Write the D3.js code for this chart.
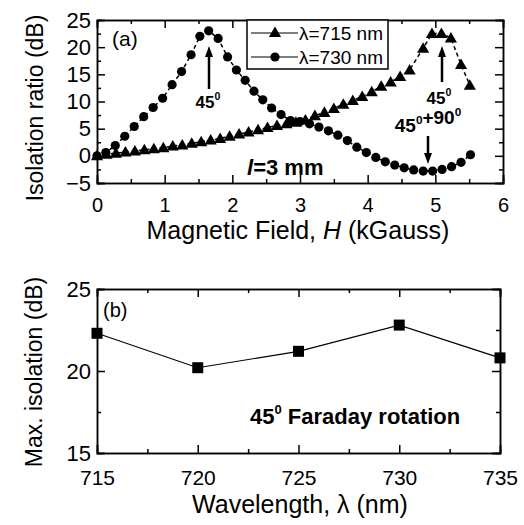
<!DOCTYPE html>
<html>
<head>
<meta charset="utf-8">
<script src="https://cdn.jsdelivr.net/npm/d3@7"></script>
<style>
  body { margin: 0; background: #fff; }
  svg { font-family: Arial, "Liberation Sans", sans-serif; }
  .axis path, .axis line { stroke: #000; stroke-width: 1.5px; }
  .axis text { font-family: Arial, "Liberation Sans", sans-serif; fill: #000; }
</style>
</head>
<body>
<svg width="524" height="525"></svg>
<script>
// panel (a): isolatie tegen magneetveld
var field730 = [0, 0.13, 0.27, 0.41, 0.55, 0.69, 0.83, 0.97, 1.11, 1.25, 1.39, 1.52, 1.65, 1.79, 1.93, 2.06, 2.19, 2.32, 2.45, 2.58, 2.72, 2.86, 3.0, 3.14, 3.28, 3.42, 3.56, 3.70, 3.84, 3.98, 4.12, 4.26, 4.40, 4.54, 4.68, 4.82, 4.96, 5.10, 5.24, 5.38, 5.52];
var iso730 = [0.0, 0.6, 1.9, 3.6, 5.4, 7.2, 8.9, 10.6, 13.1, 15.5, 18.6, 22.0, 23.0, 21.6, 18.2, 15.8, 13.9, 11.9, 10.3, 8.8, 7.6, 6.5, 6.3, 5.9, 5.3, 4.6, 3.8, 2.8, 1.6, 0.6, -0.3, -1.1, -1.7, -2.2, -2.6, -2.8, -2.8, -2.5, -2.0, -1.2, 0.2];
var field715 = [0, 0.14, 0.28, 0.42, 0.56, 0.70, 0.84, 0.98, 1.12, 1.26, 1.40, 1.54, 1.68, 1.82, 1.96, 2.10, 2.24, 2.38, 2.52, 2.66, 2.80, 2.94, 3.08, 3.22, 3.36, 3.50, 3.64, 3.78, 3.92, 4.06, 4.20, 4.34, 4.48, 4.62, 4.82, 4.95, 5.09, 5.23, 5.38, 5.51];
var iso715 = [0.0, 0.3, 0.5, 0.7, 0.9, 1.1, 1.3, 1.5, 1.8, 2.0, 2.3, 2.6, 2.9, 3.2, 3.6, 4.0, 4.4, 4.8, 5.2, 5.6, 5.9, 6.2, 6.6, 7.4, 8.0, 8.7, 9.5, 10.2, 10.9, 11.8, 12.8, 13.6, 14.6, 15.8, 19.8, 22.5, 22.5, 21.7, 16.8, 13.0];

// panel (b): maximale isolatie per golflengte
var wavelengths = [715, 720, 725, 730, 735];
var maxIso = [22.3, 20.2, 21.2, 22.8, 20.8];

var svg = d3.select("svg");

// schalen
var xa = d3.scaleLinear().domain([0, 6]).range([97, 503]),
    ya = d3.scaleLinear().domain([-5, 25]).range([183, 20]);
var xb = d3.scaleLinear().domain([715, 735]).range([97, 500]),
    yb = d3.scaleLinear().domain([15, 25]).range([453, 289]);

// assen met ticks naar binnen, op alle vier de zijden
function frame(x, y, xMajor, xMinor, yMajor, yMinor, xPad, xFont, yFont) {
    var x0 = x.range()[0], x1 = x.range()[1], y0 = y.range()[0], y1 = y.range()[1];
    var g = svg.append("g");
    g.append("g").attr("class", "axis").attr("transform", "translate(0," + y0 + ")")
        .call(d3.axisBottom(x).tickValues(xMajor).tickSize(-8).tickPadding(xPad).tickFormat(d3.format("d")))
        .attr("font-size", xFont);
    g.append("g").attr("class", "axis").attr("transform", "translate(0," + y0 + ")")
        .call(d3.axisBottom(x).tickValues(xMinor).tickSize(-4).tickFormat(""));
    g.append("g").attr("class", "axis").attr("transform", "translate(0," + y1 + ")")
        .call(d3.axisTop(x).tickValues(xMajor).tickSize(-8).tickFormat(""));
    g.append("g").attr("class", "axis").attr("transform", "translate(0," + y1 + ")")
        .call(d3.axisTop(x).tickValues(xMinor).tickSize(-4).tickFormat(""));
    g.append("g").attr("class", "axis").attr("transform", "translate(" + x0 + ",0)")
        .call(d3.axisLeft(y).tickValues(yMajor).tickSize(-8).tickPadding(6).tickFormat(d3.format("d")))
        .attr("font-size", yFont);
    g.append("g").attr("class", "axis").attr("transform", "translate(" + x0 + ",0)")
        .call(d3.axisLeft(y).tickValues(yMinor).tickSize(-4).tickFormat(""));
    g.append("g").attr("class", "axis").attr("transform", "translate(" + x1 + ",0)")
        .call(d3.axisRight(y).tickValues(yMajor).tickSize(-8).tickFormat(""));
    g.append("g").attr("class", "axis").attr("transform", "translate(" + x1 + ",0)")
        .call(d3.axisRight(y).tickValues(yMinor).tickSize(-4).tickFormat(""));
    g.selectAll(".domain").attr("stroke-width", 2);
    return g;
}

frame(xa, ya, [0, 1, 2, 3, 4, 5, 6], [0.5, 1.5, 2.5, 3.5, 4.5, 5.5],
    [-5, 0, 5, 10, 15, 20, 25], [-2.5, 2.5, 7.5, 12.5, 17.5, 22.5], 15, 20, 22);
frame(xb, yb, [715, 720, 725, 730, 735], [717.5, 722.5, 727.5, 732.5],
    [15, 20, 25], [17.5, 22.5], 17, 21, 22);

// lijnen en markers panel (a)
var lineA = d3.line().x(function (d) { return xa(d[0]); }).y(function (d) { return ya(d[1]); });
var d730 = field730.map(function (h, i) { return [h, iso730[i]]; });
var d715 = field715.map(function (h, i) { return [h, iso715[i]]; });

[d730, d715].forEach(function (d) {
    svg.append("path").datum(d).attr("d", lineA)
        .attr("fill", "none").attr("stroke", "#000").attr("stroke-width", 1.5)
        .attr("stroke-dasharray", "4,3");
});

svg.selectAll(".c730").data(d730).enter().append("circle")
    .attr("cx", function (d) { return xa(d[0]); })
    .attr("cy", function (d) { return ya(d[1]); })
    .attr("r", 4.6).attr("fill", "#000");

var tri = d3.symbol().type(d3.symbolTriangle).size(64);
svg.selectAll(".t715").data(d715).enter().append("path")
    .attr("d", tri)
    .attr("transform", function (d) { return "translate(" + xa(d[0]) + "," + (ya(d[1]) + 1) + ")"; })
    .attr("fill", "#000");

// legenda
var leg = svg.append("g");
leg.append("rect").attr("x", 247).attr("y", 20).attr("width", 141).attr("height", 49)
    .attr("fill", "#fff").attr("stroke", "#000").attr("stroke-width", 1.5);
[["λ=715 nm", "tri", 33], ["λ=730 nm", "circ", 57]].forEach(function (e) {
    leg.append("line").attr("x1", 251).attr("x2", 298).attr("y1", e[2]).attr("y2", e[2])
        .attr("stroke", "#000").attr("stroke-width", 1.2);
    if (e[1] === "tri") {
        leg.append("path").attr("d", tri).attr("transform", "translate(275," + (e[2] + 0.5) + ")");
    } else {
        leg.append("circle").attr("cx", 275).attr("cy", e[2]).attr("r", 4.6);
    }
    leg.append("text").attr("x", 299).attr("y", e[2] + 7).attr("font-size", 19).text(e[0]);
});

// annotaties
svg.append("text").attr("x", 112).attr("y", 46).attr("font-size", 21).text("(a)");

function arrow(x, yFrom, yTo) {
    var dir = yTo < yFrom ? 1 : -1;
    svg.append("line").attr("x1", x).attr("x2", x).attr("y1", yFrom).attr("y2", yTo + dir * 8)
        .attr("stroke", "#000").attr("stroke-width", 2.5);
    svg.append("path")
        .attr("d", "M" + x + "," + yTo + "L" + (x - 4) + "," + (yTo + dir * 11) + "L" + (x + 4) + "," + (yTo + dir * 11) + "Z")
        .attr("fill", "#000");
}
arrow(209, 89, 46);
arrow(442, 82, 46);
arrow(428, 136, 164);

function degText(x, y, size, parts) {
    var t = svg.append("text").attr("x", x).attr("y", y).attr("font-size", size)
        .attr("font-weight", "bold").attr("text-anchor", "middle");
    parts.forEach(function (p) {
        t.append("tspan").text(p);
        t.append("tspan").attr("dy", -8).attr("font-size", size * 0.62).text("0");
        t.append("tspan").attr("dy", 8).text("");
    });
    return t;
}
degText(208, 108, 17, ["45"]);
degText(439, 104, 17, ["45"]);
degText(428, 132, 19, ["45", "+90"]);

var lt = svg.append("text").attr("x", 247).attr("y", 175).attr("font-size", 22).attr("font-weight", "bold");
lt.append("tspan").attr("font-style", "italic").text("l");
lt.append("tspan").text("=3 mm");

// panel (b) lijn en vierkantjes
var lineB = d3.line().x(function (d, i) { return xb(wavelengths[i]); }).y(function (d) { return yb(d); });
svg.append("path").datum(maxIso).attr("d", lineB)
    .attr("fill", "none").attr("stroke", "#000").attr("stroke-width", 1.2);
svg.selectAll(".sq").data(maxIso).enter().append("rect")
    .attr("x", function (d, i) { return xb(wavelengths[i]) - 5.5; })
    .attr("y", function (d) { return yb(d) - 5.5; })
    .attr("width", 11).attr("height", 11).attr("fill", "#000");

svg.append("text").attr("x", 103).attr("y", 317).attr("font-size", 20).text("(b)");
var fr = svg.append("text").attr("x", 250).attr("y", 424).attr("font-size", 22).attr("font-weight", "bold");
fr.append("tspan").text("45");
fr.append("tspan").attr("dy", -10).attr("font-size", 13).text("0");
fr.append("tspan").attr("dy", 10).text(" Faraday rotation");

// astitels
svg.append("text").attr("x", 298).attr("y", 239).attr("text-anchor", "middle").attr("font-size", 25)
    .html('Magnetic Field, <tspan font-style="italic">H</tspan> (kGauss)');
svg.append("text").attr("x", 300).attr("y", 513).attr("text-anchor", "middle").attr("font-size", 25)
    .text("Wavelength, λ (nm)");
svg.append("text").attr("transform", "translate(43,108) rotate(-90)").attr("text-anchor", "middle")
    .attr("font-size", 23).text("Isolation ratio (dB)");
svg.append("text").attr("transform", "translate(42,372) rotate(-90)").attr("text-anchor", "middle")
    .attr("font-size", 23).text("Max. isolation (dB)");
</script>
</body>
</html>
